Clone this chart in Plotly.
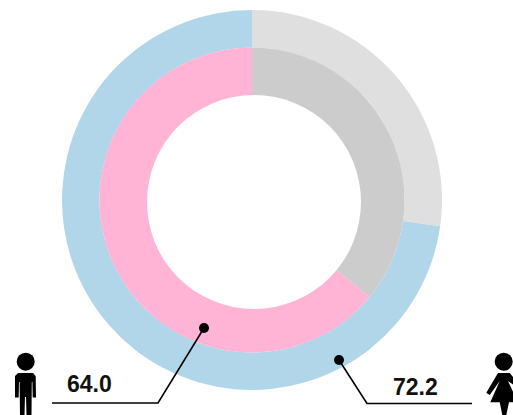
import plotly.graph_objects as go

W, H = 513, 415

# shares read from the ring boundaries
outer_labels = ["rest", "women"]
outer_values = [27.2, 72.8]
inner_labels = ["rest", "men"]
inner_values = [36.0, 64.0]
outer_colors = ["#dfdfdf", "#b1d6ea"]
inner_colors = ["#cccccc", "#ffb3d5"]
men_label = "64.0"
women_label = "72.2"


def fx(x):
    return x / W


def fy(y):
    return 1 - y / H


def ring(values, labels, colors, diameter, hole):
    cx, cy = 252, 200
    return go.Pie(
        values=values,
        labels=labels,
        sort=False,
        direction="clockwise",
        rotation=0,
        hole=hole,
        textinfo="none",
        hoverinfo="label+value",
        showlegend=False,
        marker=dict(colors=colors, line=dict(width=0)),
        domain=dict(
            x=[fx(cx - diameter / 2), fx(cx + diameter / 2)],
            y=[fy(cy + diameter / 2), fy(cy - diameter / 2)],
        ),
    )


def path(points):
    return "M" + " L".join(f"{fx(x):.5f},{fy(y):.5f}" for x, y in points) + " Z"


def open_path(points):
    return "M" + " L".join(f"{fx(x):.5f},{fy(y):.5f}" for x, y in points)


def dot(x, y, r, color="black"):
    return dict(
        type="circle", xref="paper", yref="paper",
        x0=fx(x - r), x1=fx(x + r), y0=fy(y + r), y1=fy(y - r),
        fillcolor=color, line=dict(width=0), layer="above",
    )


def solid(points):
    return dict(
        type="path", xref="paper", yref="paper", path=path(points),
        fillcolor="black", line=dict(width=0), layer="above",
    )


def leader(points):
    return dict(
        type="path", xref="paper", yref="paper", path=open_path(points),
        line=dict(color="black", width=1.6), layer="above",
    )


def value_label(text, x, y):
    return dict(
        text=f"<b>{text}</b>", x=fx(x), y=fy(y), xref="paper", yref="paper",
        xanchor="center", yanchor="middle", showarrow=False,
        font=dict(family="Liberation Sans", size=23, color="#111111"),
    )


man = [
    (18, 373), (33, 373), (35.7, 376), (36, 397.5), (32.7, 397.5), (32.4, 382), (31.8, 382),
    (31.5, 415), (26.5, 415), (26, 397), (25, 397), (24.5, 415), (20, 415), (19.6, 382),
    (19, 382), (18.7, 397.5), (15, 397.5), (15, 376),
]
woman = [
    (498, 373), (509.7, 373), (513, 377), (513, 384.5), (508, 381), (513, 391.7), (513, 402.3),
    (509, 402.3), (506.3, 415), (502.3, 415), (499.7, 402.3), (490.3, 402.3), (499.7, 381),
    (489.7, 395), (486.3, 392.7),
]

fig = go.Figure()
fig.add_trace(ring(outer_values, outer_labels, outer_colors, 380, 152.5 / 190))
fig.add_trace(ring(inner_values, inner_labels, inner_colors, 305, 0.68))

fig.update_layout(
    width=W,
    height=H,
    margin=dict(t=0, b=0, l=0, r=0),
    paper_bgcolor="white",
    shapes=[
        # the white centre sits slightly off the ring centre in the original
        dot(254, 202, 107, "white"),
        leader([(52, 403), (158, 403), (204, 328)]),
        leader([(339, 360), (367, 403.5), (472, 403.5)]),
        dot(204, 328, 5),
        dot(339, 360, 5),
        dot(25.7, 361.7, 9),
        dot(503.7, 361.7, 9),
        solid(man),
        solid(woman),
    ],
    annotations=[
        value_label(men_label, 89, 384),
        value_label(women_label, 415, 387),
    ],
)

fig.write_html(
    "out.html",
    config=dict(displayModeBar=False),
    post_script="document.body.style.margin='0';",
)
